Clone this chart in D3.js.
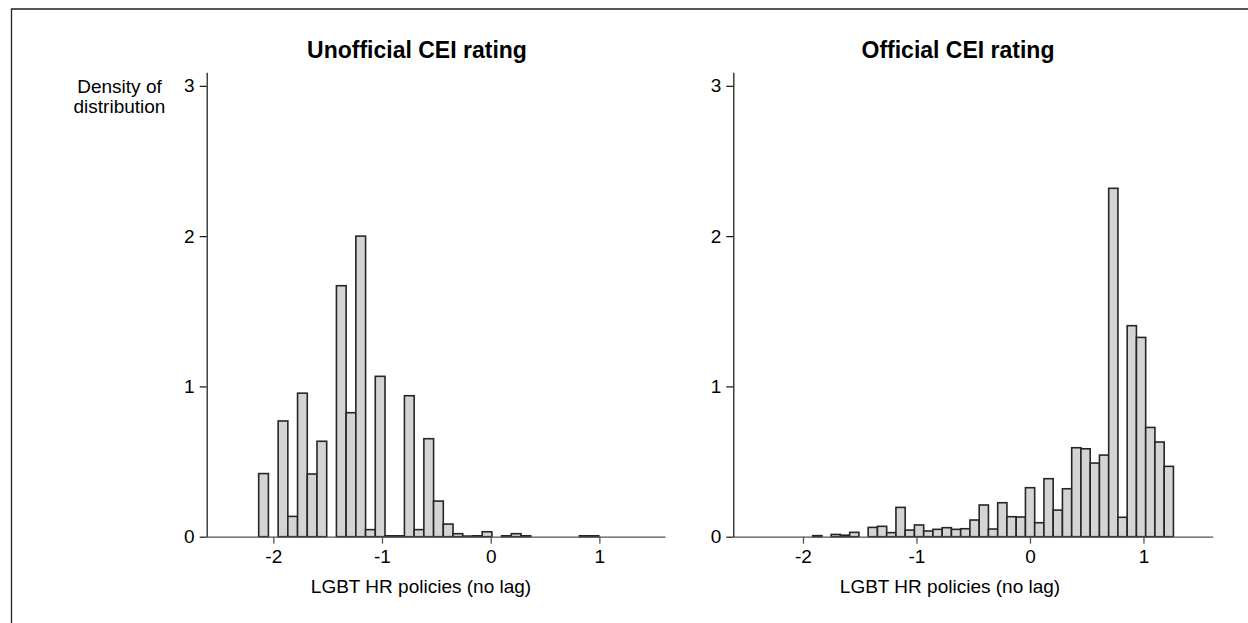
<!DOCTYPE html>
<html>
<head>
<meta charset="utf-8">
<script src="https://cdn.jsdelivr.net/npm/d3@7"></script>
<style>
  html, body { margin: 0; padding: 0; background: #fff; }
  svg { display: block; }
  text { font-family: "Liberation Sans", Arial, Helvetica, sans-serif; fill: #000; }
</style>
</head>
<body>
<svg id="chart" width="1248" height="623"></svg>
<script>
// ---------- data ----------
const panelTitles = ["Unofficial CEI rating", "Official CEI rating"];
const xAxisTitle = "LGBT HR policies (no lag)";
const yAxisTitleLines = ["Density of", "distribution"];
const xTickValues = [-2, -1, 0, 1];
const yTickValues = [0, 1, 2, 3];

// histogram bin definition for each panel (bin start, bin width)
const unofficialBinStart = -2.1346;
const unofficialBinWidth = 0.0894;
const officialBinStart = -1.9145;
const officialBinWidth = 0.0815;

// density per bin
const unofficialDensity = [
  0.42, 0, 0.77, 0.135, 0.955, 0.417, 0.635, 0, 1.67, 0.825,
  2.0, 0.047, 1.067, 0.006, 0.006, 0.938, 0.047, 0.652, 0.237, 0.084,
  0.02, 0.004, 0.006, 0.033, 0, 0.006, 0.02, 0.006, 0, 0,
  0, 0, 0, 0.006, 0.006
];
const officialDensity = [
  0.007, 0, 0.015, 0.01, 0.029, 0, 0.062, 0.069, 0.027, 0.195,
  0.044, 0.078, 0.038, 0.049, 0.06, 0.049, 0.053, 0.111, 0.211, 0.051,
  0.226, 0.133, 0.131, 0.326, 0.093, 0.386, 0.177, 0.319, 0.592, 0.585,
  0.49, 0.543, 2.318, 0.129, 1.404, 1.326, 0.727, 0.63, 0.468
];

// ---------- layout ----------
const svg = d3.select("#chart");
const FONT = 19;

// outer frame (top and left edges visible)
svg.append("path")
  .attr("d", "M11.5,623 V9 H1248")
  .attr("fill", "none")
  .attr("stroke", "#222")
  .attr("stroke-width", 1.3);

const panels = [
  { title: panelTitles[0], titleX: 417, xTitleX: 421,
    xDomain: [-2.613, 1.604], xRange: [206.7, 665],
    binStart: unofficialBinStart, binWidth: unofficialBinWidth, density: unofficialDensity,
    showYTitle: true },
  { title: panelTitles[1], titleX: 958, xTitleX: 950,
    xDomain: [-2.614, 1.61], xRange: [733.3, 1212.7],
    binStart: officialBinStart, binWidth: officialBinWidth, density: officialDensity,
    showYTitle: false }
];

const y = d3.scaleLinear().domain([0, 3.09]).range([536.7, 72.3]);

panels.forEach(p => {
  const x = d3.scaleLinear().domain(p.xDomain).range(p.xRange);
  const g = svg.append("g");

  const bins = p.density.map((d, i) => ({
    x0: p.binStart + i * p.binWidth,
    x1: p.binStart + (i + 1) * p.binWidth,
    v: d
  })).filter(b => b.v > 0);

  // bars
  g.selectAll("rect.bar").data(bins).enter().append("rect")
    .attr("class", "bar")
    .attr("x", b => x(b.x0))
    .attr("width", b => x(b.x1) - x(b.x0))
    .attr("y", b => y(b.v))
    .attr("height", b => y(0) - y(b.v))
    .attr("fill", "#d4d4d4")
    .attr("stroke", "#262626")
    .attr("stroke-width", 1.6);

  // x axis
  const xAxis = d3.axisBottom(x)
    .tickValues(xTickValues)
    .tickFormat(d => String(d))
    .tickSize(7)
    .tickPadding(6)
    .tickSizeOuter(0);
  const gx = g.append("g")
    .attr("transform", `translate(0,${y(0)})`)
    .call(xAxis);
  gx.select(".domain").attr("stroke", "#555").attr("stroke-width", 1.3);
  gx.selectAll(".tick line").attr("stroke", "#555").attr("stroke-width", 1.3);
  gx.selectAll(".tick text")
    .attr("font-size", FONT)
    .attr("font-family", '"Liberation Sans", Arial, sans-serif')
    .attr("fill", "#000");

  // y axis
  const yAxis = d3.axisLeft(y)
    .tickValues(yTickValues)
    .tickFormat(d => String(d))
    .tickSize(7)
    .tickPadding(5)
    .tickSizeOuter(0);
  const gy = g.append("g")
    .attr("transform", `translate(${p.xRange[0]},0)`)
    .call(yAxis);
  gy.select(".domain").attr("stroke", "#111").attr("stroke-width", 1.2);
  gy.selectAll(".tick line").attr("stroke", "#111").attr("stroke-width", 1.2);
  gy.selectAll(".tick text")
    .attr("font-size", FONT)
    .attr("font-family", '"Liberation Sans", Arial, sans-serif')
    .attr("fill", "#000");

  // panel title
  g.append("text")
    .attr("x", p.titleX)
    .attr("y", 57.5)
    .attr("text-anchor", "middle")
    .attr("font-size", 23)
    .attr("font-weight", "bold")
    .text(p.title);

  // x axis title
  g.append("text")
    .attr("x", p.xTitleX)
    .attr("y", 593)
    .attr("text-anchor", "middle")
    .attr("font-size", FONT)
    .text(xAxisTitle);

  if (p.showYTitle) {
    const t = g.append("text")
      .attr("text-anchor", "middle")
      .attr("font-size", FONT);
    yAxisTitleLines.forEach((line, i) => {
      t.append("tspan").attr("x", 119.5).attr("y", 93 + i * 19.5).text(line);
    });
  }
});
</script>
</body>
</html>
